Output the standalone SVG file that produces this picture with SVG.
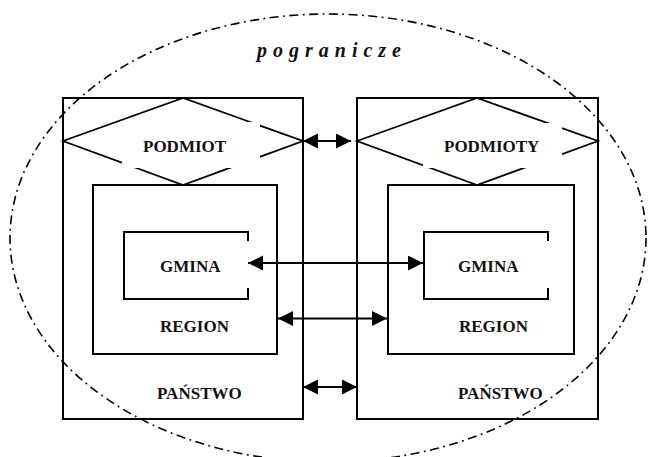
<svg xmlns="http://www.w3.org/2000/svg" width="648" height="457" viewBox="0 0 648 457">
<defs>
<style>
.box{fill:none;stroke:#000;stroke-width:2}
.dia{fill:none;stroke:#000;stroke-width:1.8;stroke-linejoin:miter}
.mask{fill:#fff;stroke:none}
.lbl{font-family:"Liberation Serif","Times New Roman",serif;font-weight:bold;font-size:17px;fill:#111}
.title{font-family:"Liberation Serif","Times New Roman",serif;font-weight:bold;font-style:italic;font-size:20px;letter-spacing:6px;fill:#111}
.conn{stroke:#000;stroke-width:2;fill:none;marker-start:url(#ah);marker-end:url(#ah)}
.border{fill:none;stroke:#000;stroke-width:1.6;stroke-dasharray:9 4.5 1.8 4.5}
</style>
<marker id="ah" markerWidth="16" markerHeight="16" refX="15" refY="7.5" orient="auto-start-reverse" markerUnits="userSpaceOnUse" viewBox="0 0 16 16">
<path d="M0,0 L15,7.5 L0,15 Z" fill="#000"/>
</marker>
</defs>
<rect width="648" height="457" fill="#fff"/>

<g id="panstwo-left">
<rect class="box" x="63" y="98" width="240" height="321"/>
<text class="lbl" x="157" y="399">PAŃSTWO</text>
</g>
<g id="panstwo-right">
<rect class="box" x="357" y="98" width="241" height="321"/>
<text class="lbl" x="458" y="399">PAŃSTWO</text>
</g>

<g id="podmiot-left">
<polygon class="dia" points="63,141 183,98 303,141 183,185"/>
<rect class="mask" x="122" y="122" width="138" height="46"/>
<text class="lbl" x="143" y="152">PODMIOT</text>
</g>
<g id="podmioty-right">
<polygon class="dia" points="357,141 477,98 598,141 477,185"/>
<rect class="mask" x="423" y="123" width="139" height="45"/>
<text class="lbl" x="444" y="152">PODMIOTY</text>
</g>

<g id="region-left">
<rect class="box" x="93" y="185" width="184" height="169"/>
<text class="lbl" x="160" y="332">REGION</text>
</g>
<g id="region-right">
<rect class="box" x="388" y="185" width="186" height="169"/>
<text class="lbl" x="459" y="332">REGION</text>
</g>

<g id="gmina-left">
<path class="box" d="M248,241 V232 H124 V299 H248 V288"/>
<text class="lbl" x="160" y="272">GMINA</text>
</g>
<g id="gmina-right">
<path class="box" d="M548,241 V232 H424 V299 H548 V288"/>
<text class="lbl" x="458" y="272">GMINA</text>
</g>

<g id="connectors">
<line class="conn" x1="303" y1="141" x2="351" y2="141"/>
<line class="conn" x1="248" y1="263" x2="423" y2="263"/>
<line class="conn" x1="278" y1="318.5" x2="387" y2="318.5"/>
<line class="conn" x1="303" y1="387" x2="357" y2="387"/>
</g>

<g id="pogranicze">
<ellipse class="border" cx="328" cy="238" rx="318" ry="224"/>
<text class="title" x="257" y="57">pogranicze</text>
</g>
</svg>
